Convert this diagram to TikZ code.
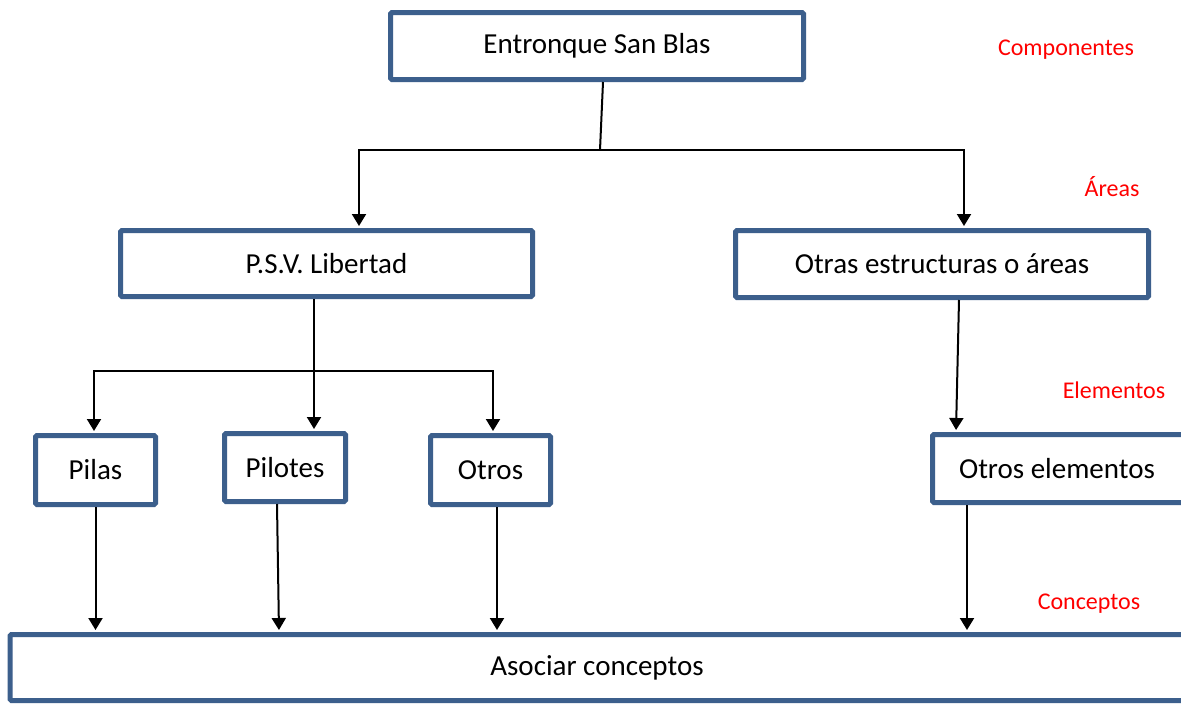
\documentclass[tikz,border=0pt]{standalone}
\usepackage{fontspec}
\setmainfont{Carlito}
\usetikzlibrary{arrows.meta,calc}
\definecolor{boxblue}{RGB}{60,95,140}
\begin{document}
\begin{tikzpicture}[x=1pt,y=-1pt,
  box/.style={draw=boxblue, line width=5pt, rounded corners=1.5pt, fill=white, inner sep=0pt,
              font=\fontsize{29}{34}\selectfont},
  lbl/.style={text=red, inner sep=0pt, font=\fontsize{24}{28}\selectfont},
  conn/.style={line width=2pt, black},
  arr/.style={conn, -{Triangle[width=14pt,length=12pt]}, shorten >=2pt}]
\fill[white] (0,0) rectangle (1181,704);
\useasboundingbox (0,0) rectangle (1181,704);

% boxes
\node[box, minimum width=413pt, minimum height=67pt] (top) at (597,46) {Entronque San Blas};
\node[box, minimum width=412pt, minimum height=66pt] (psv) at (326.5,263.5) {P.S.V. Libertad};
\node[box, minimum width=413pt, minimum height=67pt] (otras) at (942,264) {Otras estructuras o áreas};
\node[box, minimum width=120pt, minimum height=69pt] (pilas) at (95.5,470) {Pilas};
\node[box, minimum width=121pt, minimum height=68pt] (pilotes) at (285,467.5) {Pilotes};
\node[box, minimum width=120pt, minimum height=69pt] (otros) at (490.5,470) {Otros};
\node[box, minimum width=280pt, minimum height=68pt] (otrosel) at (1072.5,468.5) {\hspace{-31pt}Otros elementos};
\node[box, minimum width=1200pt, minimum height=66pt] (asoc) at (610,667.5) {\hspace{-26pt}Asociar conceptos};

% level labels
\node[lbl] (lcomp) at (1066,50) {Componentes};
\node[lbl] (lareas) at (1112,187) {Áreas};
\node[lbl] (lelem) at (1114,390) {Elementos};
\node[lbl] (lconc) at (1089,604) {Conceptos};

% connectors: top -> areas
\coordinate (j1) at (600,150);
\draw[conn] ([xshift=6pt]top.south) -- (j1);
\draw[arr] (j1) -| ([xshift=32.5pt]psv.north);
\draw[arr] (j1) -| ([xshift=22pt]otras.north);

% psv -> elements
\coordinate (j2) at (314,371);
\draw[conn] ([xshift=-12.5pt]psv.south) -- (j2);
\draw[arr] (j2) -| ([xshift=-1.5pt]pilas.north);
\draw[arr] (j2) -- (j2 |- pilotes.north);
\draw[arr] (j2) -| ([xshift=2.5pt]otros.north);

% otras -> otros elementos
\draw[arr] ([xshift=17pt]otras.south) -- ([xshift=-116.5pt]otrosel.north);

% elements -> concepts
\draw[arr] (pilas.south) -- (pilas.south |- asoc.north);
\draw[arr] ([xshift=-8pt]pilotes.south) -- ([xshift=-331pt]asoc.north);
\draw[arr] ([xshift=6.5pt]otros.south) -- ([xshift=6.5pt]otros.south |- asoc.north);
\draw[arr] ([xshift=-105.5pt]otrosel.south) -- ([xshift=-105.5pt]otrosel.south |- asoc.north);
\end{tikzpicture}
\end{document}
